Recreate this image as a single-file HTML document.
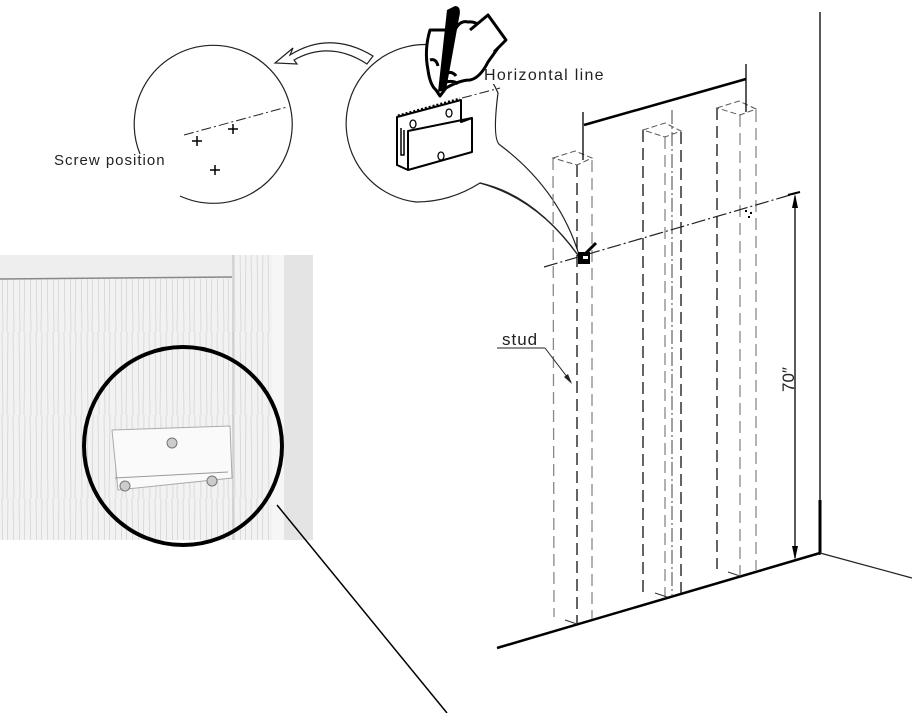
<!DOCTYPE html>
<html><head><meta charset="utf-8"><style>
html,body{margin:0;padding:0;background:#fff;}
svg{display:block;}
text{font-family:"Liberation Sans",sans-serif;}
</style></head><body>
<svg width="916" height="713" viewBox="0 0 916 713" xmlns="http://www.w3.org/2000/svg">
<defs>
<pattern id="wood" width="17" height="83" patternUnits="userSpaceOnUse">
<rect width="17" height="83" fill="#f2f2f2"/>
<path d="M2 0 L3 83 M8 0 L7 83 M13 0 L14 83" stroke="#d0d0d0" stroke-width="0.7"/>
</pattern>
</defs>
<!-- photo -->
<rect x="0" y="255" width="313" height="285" fill="url(#wood)"/>
<rect x="0" y="255" width="232" height="24" fill="#eeeeee"/>
<line x1="0" y1="279" x2="232" y2="277" stroke="#888" stroke-width="1.5"/>
<line x1="233" y1="255" x2="233" y2="540" stroke="#bbb" stroke-width="1"/>
<rect x="282" y="255" width="31" height="285" fill="#e4e4e4"/>
<rect x="272" y="255" width="12" height="285" fill="#f6f6f6"/>
<polygon points="112,430 230,426 232,478 118,490" fill="#fafafa" stroke="#aaa" stroke-width="1"/>
<line x1="115" y1="478" x2="228" y2="472" stroke="#999"/>
<circle cx="172" cy="443" r="5" fill="#ccc" stroke="#777"/>
<circle cx="125" cy="486" r="5" fill="#ccc" stroke="#777"/>
<circle cx="212" cy="481" r="5" fill="#ccc" stroke="#777"/>
<circle cx="183" cy="446" r="99" fill="none" stroke="#000" stroke-width="4"/>
<line x1="277" y1="505" x2="447" y2="713" stroke="#000" stroke-width="1.5"/>

<!-- left circle -->
<path d="M180 196 A79 79 0 1 0 140 154" fill="none" stroke="#222" stroke-width="1.2"/>
<line x1="184" y1="135" x2="287" y2="107" stroke="#222" stroke-width="1" stroke-dasharray="10,3,2,3"/>
<g stroke="#000" stroke-width="1.5">
<path d="M192 141 h10 M197 136 v10 M228 129 h10 M233 124 v10 M210 170 h10 M215 165 v10"/>
</g>
<text x="54" y="165" font-size="15" letter-spacing="1" fill="#222">Screw position</text>

<!-- curved arrow -->
<path d="M373 56 Q330 30 290 55 L293 48 L275 63 L297 64 L294 60 Q330 40 367 64 Z" fill="#fff" stroke="#222" stroke-width="1.2"/>

<!-- right circle with tail -->
<path d="M416 202 A79 79 0 1 1 498 93 Q492 140 500 145 Q560 190 580 258 Q540 200 480 183 Q450 202 416 202 Z" fill="#fff" stroke="#222" stroke-width="1.2"/>
<path d="M480 183 Q535 195 580 258" fill="none" stroke="#222" stroke-width="1.2"/>
<line x1="462" y1="98" x2="500" y2="88" stroke="#222" stroke-width="1" stroke-dasharray="10,3,2,3"/>
<rect x="482" y="64" width="140" height="20" fill="#fff"/>
<text x="484" y="80" font-size="16" letter-spacing="1.3" fill="#222">Horizontal line</text>
<!-- bracket -->
<g stroke="#000" stroke-width="2" fill="#fff" stroke-linejoin="round">
<polygon points="397,117 461,100 461,122 472,118 472,152 408,170 397,165"/>
<polyline points="408,170 408,131 472,118" fill="none"/>
<path d="M401 128 V155 h3 V130" fill="none" stroke-width="1.5"/>
<ellipse cx="413" cy="124" rx="3" ry="4" fill="none" stroke-width="1.3"/>
<ellipse cx="449" cy="113" rx="3" ry="4" fill="none" stroke-width="1.3"/>
<ellipse cx="441" cy="156" rx="3" ry="4" fill="none" stroke-width="1.3"/>
</g>
<line x1="398" y1="116" x2="460" y2="99" stroke="#000" stroke-width="3" stroke-dasharray="2,2"/>
<!-- hand -->
<g stroke="#000" stroke-width="3" fill="#fff" stroke-linejoin="round">
<path d="M430 30 Q424 50 428 70 Q430 85 436 90 L440 96 L446 88 Q460 80 470 80 Q480 78 488 62 L498 48 L492 40 Q480 20 468 22 Q460 20 455 30 Z"/>
<path d="M470 30 L488 15 L506 40 L494 52" />
<path d="M444 74 Q452 70 456 76 M446 82 Q454 80 458 84 M430 60 Q436 58 438 66"/>
</g>
<path d="M455 6 Q462 6 459 18 L446 90 L438 92 L447 10 Z" fill="#000"/>

<!-- wall -->
<line x1="820" y1="12" x2="820" y2="555" stroke="#222" stroke-width="1.5"/>
<line x1="820" y1="500" x2="820" y2="553" stroke="#000" stroke-width="3"/>
<line x1="497" y1="648" x2="820" y2="553" stroke="#000" stroke-width="2.5"/>
<line x1="820" y1="553" x2="912" y2="578" stroke="#222" stroke-width="1.2"/>

<!-- studs -->
<g fill="none" stroke-dasharray="12,6" stroke-width="1.3">
<line x1="553" y1="158" x2="554" y2="617" stroke="#888"/>
<line x1="577" y1="165" x2="577" y2="624" stroke="#111"/>
<line x1="592" y1="160" x2="592" y2="619" stroke="#888"/>
<line x1="643" y1="130" x2="643" y2="592" stroke="#111"/>
<line x1="665" y1="137" x2="665" y2="597" stroke="#888"/>
<line x1="681" y1="132" x2="681" y2="594" stroke="#111"/>
<line x1="717" y1="108" x2="717" y2="569" stroke="#111"/>
<line x1="740" y1="115" x2="740" y2="575" stroke="#888"/>
<line x1="756" y1="110" x2="756" y2="571" stroke="#888"/>
</g>
<line x1="672" y1="110" x2="672" y2="596" stroke="#444" stroke-width="1" stroke-dasharray="14,3,2,3"/>
<g fill="none" stroke="#555" stroke-width="1" stroke-dasharray="6,3">
<path d="M553 158 L575 151 L592 158 L577 165 Z"/>
<path d="M643 130 L665 123 L681 131 L665 137 Z"/>
<path d="M717 108 L739 101 L756 109 L740 115 Z"/>
</g>
<g stroke="#333" stroke-width="1">
<line x1="565" y1="620" x2="577" y2="624"/><line x1="655" y1="593" x2="667" y2="597"/><line x1="728" y1="572" x2="740" y2="576"/>
</g>
<!-- top dimension -->
<line x1="583" y1="112" x2="583" y2="160" stroke="#000" stroke-width="1.3"/>
<line x1="746" y1="64" x2="746" y2="112" stroke="#000" stroke-width="1.3"/>
<line x1="584" y1="125" x2="746" y2="79" stroke="#000" stroke-width="2.5"/>
<!-- horizontal dash-dot -->
<line x1="544" y1="267" x2="797" y2="193" stroke="#222" stroke-width="1.2" stroke-dasharray="14,3,2,3"/>
<rect x="578" y="252" width="12" height="12" fill="#000"/>
<rect x="583" y="256" width="5" height="3" fill="#fff"/>
<line x1="586" y1="253" x2="596" y2="243" stroke="#000" stroke-width="3"/>
<g fill="#000"><rect x="745" y="210" width="2" height="2"/><rect x="750" y="212" width="2" height="2"/><rect x="748" y="216" width="2" height="2"/></g>
<!-- 70" dimension -->
<line x1="795" y1="196" x2="795" y2="558" stroke="#000" stroke-width="1.3"/>
<polygon points="795,194 792,208 798,208" fill="#000"/>
<polygon points="795,560 792,546 798,546" fill="#000"/>
<line x1="788" y1="195" x2="800" y2="192" stroke="#000" stroke-width="2"/>
<text transform="translate(794,392) rotate(-90)" font-size="17" fill="#222">70″</text>
<!-- stud label -->
<text x="502" y="345" font-size="17" letter-spacing="1" fill="#222">stud</text>
<line x1="497" y1="348" x2="545" y2="348" stroke="#222" stroke-width="1"/>
<line x1="545" y1="348" x2="571" y2="382" stroke="#222" stroke-width="1"/>
<polygon points="572,384 564,377 568,374" fill="#222"/>
</svg>
</body></html>
